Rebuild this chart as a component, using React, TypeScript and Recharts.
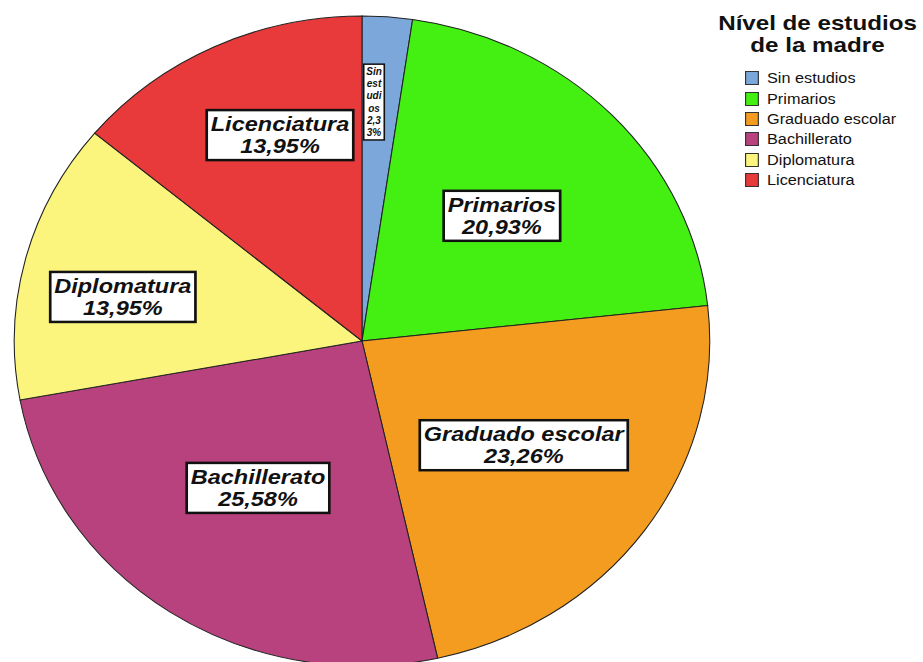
import { PieChart, Pie, Cell, Legend } from 'recharts';

const categories = ['Sin estudios', 'Primarios', 'Graduado escolar', 'Bachillerato', 'Diplomatura', 'Licenciatura'];
const counts = [1, 9, 10, 11, 6, 6];
const COLORS = ['#7ba7da', '#44f012', '#f39c1f', '#b8427d', '#fbf47d', '#e8393b'];

const data = categories.map((name, i) => ({ name, value: counts[i] }));

const RAD = Math.PI / 180;
const FONT = '"Liberation Sans", Arial, sans-serif';
// the original pie is a little wider than tall
const STRETCH = 1.07;
const CX = 362;
// where each label box sits: share of the radius and angle nudge (deg)
const labelDist = [0.736, 0.557, 0.565, 0.542, 0.701, 0.676];
const labelTurn = [1.5, -0.2, 1.0, 0, 3.5, -4.7];

let ctx: CanvasRenderingContext2D | null = null;
const measure = (text: string, font: string) => {
  if (!ctx) ctx = document.createElement('canvas').getContext('2d');
  if (!ctx) return text.length * 11;
  ctx.font = font;
  return ctx.measureText(text).width;
};

const chunk = (word: string) => {
  const out: string[] = [];
  for (let i = 0; i < word.length; i += 3) out.push(word.slice(i, i + 3));
  return out;
};

const renderLabel = (props: any) => {
  const { cx, cy, midAngle, outerRadius, percent, name, index } = props;
  const r = outerRadius * labelDist[index];
  const a = (midAngle + labelTurn[index]) * RAD;
  const x = cx + r * Math.cos(-a);
  const y = cy + r * Math.sin(-a);
  const pct = (percent * 100).toFixed(2).replace('.', ',') + '%';
  const narrow = percent < 0.05;
  const fontSize = narrow ? 10 : 21;
  const lineH = narrow ? 12.3 : 22;
  const sx = (narrow ? 1 : 1.12) / STRETCH;
  const lines = narrow
    ? [...name.split(' ').flatMap(chunk), ...chunk(pct)]
    : [name, pct];
  const font = `italic bold ${fontSize}px ${FONT}`;
  const w = Math.max(...lines.map((l) => measure(l, font))) * sx + (narrow ? 5 : 8) / STRETCH;
  const h = lines.length * lineH + (narrow ? 2 : 6);
  return (
    <g key={`lab-${index}`}>
      <rect x={x - w / 2} y={y - h / 2} width={w} height={h} fill="#fff" stroke="#111" strokeWidth={narrow ? 1.5 : 2.5} />
      <text
        x={x}
        textAnchor="middle"
        fontFamily={FONT}
        fontStyle="italic"
        fontWeight="bold"
        fontSize={fontSize}
        fill="#111"
        transform={`translate(${x} 0) scale(${sx} 1) translate(${-x} 0)`}
      >
        {lines.map((l, i) => (
          <tspan key={i} x={x} y={y - h / 2 + (narrow ? 1 : 3) + lineH * (i + 0.5)} dominantBaseline="central">
            {l}
          </tspan>
        ))}
      </text>
    </g>
  );
};

const renderLegend = () => (
  <div style={{ fontFamily: FONT, color: '#111' }}>
    <div
      style={{
        fontSize: 21,
        fontWeight: 'bold',
        textAlign: 'center',
        lineHeight: '22px',
        transform: 'scaleX(1.15)',
        transformOrigin: 'center top',
      }}
    >
      Nível de estudios
      <br />
      de la madre
    </div>
    <div style={{ marginTop: 12, marginLeft: 33, transform: 'scaleX(1.16)', transformOrigin: 'left top' }}>
      {categories.map((c, i) => (
        <div key={c} style={{ display: 'flex', alignItems: 'center', height: 20.4, fontSize: 14 }}>
          <span
            style={{
              width: 12,
              height: 14,
              background: COLORS[i],
              border: '1.5px solid #333',
              marginRight: 7,
              boxSizing: 'border-box',
            }}
          />
          {c}
        </div>
      ))}
    </div>
  </div>
);

const App = () => (
  <div style={{ position: 'absolute', left: 0, top: 0, width: 923, height: 662, overflow: 'hidden', background: '#fff' }}>
    <style>{`.recharts-surface{transform:scaleX(${STRETCH});transform-origin:${CX}px 0;}`}</style>
    <PieChart width={923} height={662} margin={{ top: 0, right: 0, bottom: 0, left: 0 }}>
      <Pie
        data={data}
        dataKey="value"
        nameKey="name"
        cx={CX}
        cy={341}
        outerRadius={325}
        startAngle={90}
        endAngle={-270}
        stroke="#222"
        strokeWidth={1}
        label={renderLabel}
        labelLine={false}
        isAnimationActive={false}
      >
        {data.map((entry, index) => (
          <Cell key={entry.name} fill={COLORS[index]} />
        ))}
      </Pie>
      <Legend
        content={renderLegend}
        wrapperStyle={{ position: 'absolute', left: 712, top: 12, width: 211 }}
      />
    </PieChart>
  </div>
);

export default App;
